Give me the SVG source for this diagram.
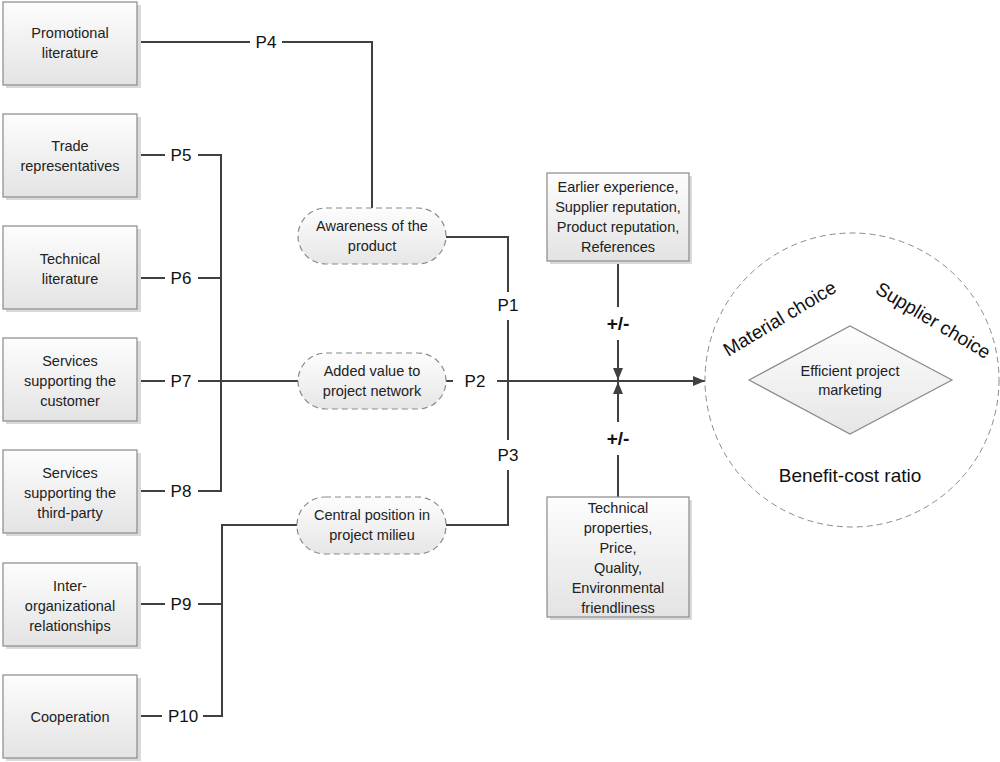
<svg xmlns="http://www.w3.org/2000/svg" width="1000" height="762" viewBox="0 0 1000 762">
<defs>
<linearGradient id="gbox" x1="0" y1="0" x2="0" y2="1">
<stop offset="0" stop-color="#fdfdfd"/><stop offset="1" stop-color="#e3e3e3"/>
</linearGradient>
<linearGradient id="gpill" x1="0" y1="0" x2="0" y2="1">
<stop offset="0" stop-color="#fdfdfd"/><stop offset="1" stop-color="#e6e6e6"/>
</linearGradient>
<marker id="arr" markerWidth="12" markerHeight="10" refX="12" refY="5" orient="auto" markerUnits="userSpaceOnUse">
<path d="M0,0 L12,5 L0,10 Z" fill="#404040"/>
</marker>
</defs>
<style>
.box{fill:url(#gbox);stroke:#8a8a8a;stroke-width:1.2}
.shadow{fill:#dadada}
.pill{fill:url(#gpill);stroke:#8a8a8a;stroke-width:1.2;stroke-dasharray:6,4}
.t{font-family:"Liberation Sans",Arial,sans-serif;font-size:14.5px;fill:#222;text-anchor:middle}
.p{font-family:"Liberation Sans",Arial,sans-serif;font-size:17px;fill:#111;text-anchor:middle}
.pm{font-family:"Liberation Sans",Arial,sans-serif;font-size:19px;font-weight:bold;fill:#111;text-anchor:middle}
.big{font-family:"Liberation Sans",Arial,sans-serif;font-size:19px;fill:#111;text-anchor:middle}
.ln{fill:none;stroke:#404040;stroke-width:2}
</style>

<g id="connectors">
<path class="ln" d="M137,42 H250 M282,42 H372 V208"/>
<path class="ln" d="M137,155 H165 M198,155 H221 V491 H198 M165,491 H137"/>
<path class="ln" d="M137,278 H165 M198,278 H221"/>
<path class="ln" d="M137,381 H165 M198,381 H298"/>
<path class="ln" d="M297,525 H222 V716 H203 M162,716 H137"/>
<path class="ln" d="M137,604 H165 M198,604 H222"/>
<path class="ln" d="M446,237 H508 V292 M508,320 V440 M508,470 V525 H446"/>
<path class="ln" d="M446,381 H453"/>
<path class="ln" d="M497,381 H705" marker-end="url(#arr)"/>
<path class="ln" d="M618,261 V307"/>
<path class="ln" d="M618,340 V380" marker-end="url(#arr)"/>
<path class="ln" d="M618,497 V455"/>
<path class="ln" d="M618,422 V382" marker-end="url(#arr)"/>
<text class="p" x="266" y="48">P4</text>
<text class="p" x="181" y="161">P5</text>
<text class="p" x="181" y="284">P6</text>
<text class="p" x="181" y="387">P7</text>
<text class="p" x="181" y="497">P8</text>
<text class="p" x="181" y="610">P9</text>
<text class="p" x="183" y="722">P10</text>
<text class="p" x="508" y="311">P1</text>
<text class="p" x="475" y="387">P2</text>
<text class="p" x="508" y="461">P3</text>
<text class="pm" x="618" y="330">+/-</text>
<text class="pm" x="618" y="445">+/-</text>
</g>

<g id="n-promo">
<rect class="shadow" x="6" y="5" width="135" height="83"/>
<rect class="box" x="3" y="2" width="134" height="83"/>
<text class="t" x="70" y="38">Promotional</text><text class="t" x="70" y="58">literature</text>
</g>
<g id="n-trade">
<rect class="shadow" x="6" y="117" width="135" height="83"/>
<rect class="box" x="3" y="114" width="134" height="83"/>
<text class="t" x="70" y="151">Trade</text><text class="t" x="70" y="171">representatives</text>
</g>
<g id="n-techlit">
<rect class="shadow" x="6" y="229" width="135" height="83"/>
<rect class="box" x="3" y="226" width="134" height="83"/>
<text class="t" x="70" y="264">Technical</text><text class="t" x="70" y="284">literature</text>
</g>
<g id="n-custsvc">
<rect class="shadow" x="6" y="341" width="135" height="83"/>
<rect class="box" x="3" y="338" width="134" height="83"/>
<text class="t" x="70" y="366">Services</text><text class="t" x="70" y="386">supporting the</text><text class="t" x="70" y="406">customer</text>
</g>
<g id="n-thirdsvc">
<rect class="shadow" x="6" y="453" width="135" height="83"/>
<rect class="box" x="3" y="450" width="134" height="83"/>
<text class="t" x="70" y="478">Services</text><text class="t" x="70" y="498">supporting the</text><text class="t" x="70" y="518">third-party</text>
</g>
<g id="n-interorg">
<rect class="shadow" x="6" y="566" width="135" height="83"/>
<rect class="box" x="3" y="563" width="134" height="83"/>
<text class="t" x="70" y="591">Inter-</text><text class="t" x="70" y="611">organizational</text><text class="t" x="70" y="631">relationships</text>
</g>
<g id="n-coop">
<rect class="shadow" x="6" y="678" width="135" height="83"/>
<rect class="box" x="3" y="675" width="134" height="83"/>
<text class="t" x="70" y="722">Cooperation</text>
</g>

<g id="n-awareness">
<rect class="pill" x="298" y="208" width="148" height="56" rx="28"/>
<text class="t" x="372" y="231">Awareness of the</text><text class="t" x="372" y="251">product</text>
</g>
<g id="n-added">
<rect class="pill" x="298" y="353" width="148" height="56" rx="28"/>
<text class="t" x="372" y="376">Added value to</text><text class="t" x="372" y="396">project network</text>
</g>
<g id="n-central">
<rect class="pill" x="297" y="497" width="149" height="57" rx="28"/>
<text class="t" x="372" y="520">Central position in</text><text class="t" x="372" y="540">project milieu</text>
</g>

<g id="n-earlier">
<rect class="shadow" x="550" y="176" width="142" height="88"/>
<rect class="box" x="547" y="173" width="142" height="88"/>
<text class="t" x="618" y="192">Earlier experience,</text>
<text class="t" x="618" y="212">Supplier reputation,</text>
<text class="t" x="618" y="232">Product reputation,</text>
<text class="t" x="618" y="252">References</text>
</g>
<g id="n-technical">
<rect class="shadow" x="550" y="500" width="142" height="120"/>
<rect class="box" x="547" y="497" width="142" height="120"/>
<text class="t" x="618" y="513">Technical</text>
<text class="t" x="618" y="533">properties,</text>
<text class="t" x="618" y="553">Price,</text>
<text class="t" x="618" y="573">Quality,</text>
<text class="t" x="618" y="593">Environmental</text>
<text class="t" x="618" y="613">friendliness</text>
</g>

<g id="n-outcome">
<circle cx="852" cy="380" r="147" fill="#fff" stroke="#8a8a8a" stroke-width="1" stroke-dasharray="6,4"/>
<polygon points="749,380 850,326 952,380 850,434" fill="url(#gpill)" stroke="#8a8a8a" stroke-width="1.2"/>
<text class="t" x="850" y="376">Efficient project</text>
<text class="t" x="850" y="395">marketing</text>
<text class="big" x="850" y="482">Benefit-cost ratio</text>
<text class="big" transform="translate(783,324) rotate(-31)" x="0" y="0">Material choice</text>
<text class="big" transform="translate(930,326) rotate(31)" x="0" y="0">Supplier choice</text>
</g>
</svg>
